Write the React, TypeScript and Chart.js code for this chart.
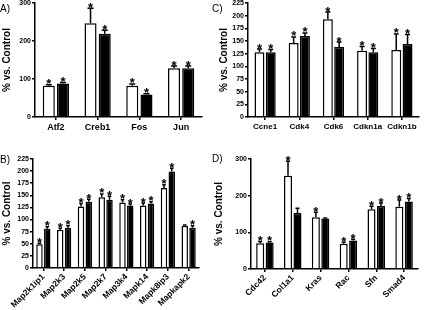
import React, { useEffect, useRef } from 'react';
import { Chart, registerables } from 'chart.js';
Chart.register(...registerables);

const FONT = '"Liberation Sans", Arial, Helvetica, sans-serif';
Chart.defaults.font.family = FONT;
Chart.defaults.color = '#000';

// Panel A
const catA = ['Atf2', 'Creb1', 'Fos', 'Jun'];
const whiteA = [82, 247, 82, 128];
const whiteErrA = [85, 286, 87, 134];
const blackA = [88, 219, 59, 128];
const blackErrA = [91, 228, 61, 134];
const whiteStarA = [true, true, true, true];
const blackStarA = [true, true, true, true];

// Panel B
const catB = ['Map2k1ip1', 'Map2k3', 'Map2k5', 'Map2k7', 'Map3k4', 'Mapk14', 'Mapk8ip3', 'Mapkapk2'];
const whiteB = [49, 79, 127, 146, 135, 129, 165, 87];
const whiteErrB = [51, 82, 133, 153, 141, 134, 172, 89];
const blackB = [81, 83, 137, 141, 129, 133, 199, 83];
const blackErrB = [85, 87, 142, 148, 132, 137, 206, 87];
const whiteStarB = [true, true, true, true, true, true, true, false];
const blackStarB = [true, true, true, true, true, true, true, true];

// Panel C
const catC = ['Ccne1', 'Cdk4', 'Cdk6', 'Cdkn1a', 'Cdkn1b'];
const whiteC = [128, 146, 193, 131, 132];
const whiteErrC = [134, 158, 207, 139, 164];
const blackC = [128, 160, 138, 128, 144];
const blackErrC = [133, 166, 148, 135, 163];
const whiteStarC = [true, true, true, true, true];
const blackStarC = [true, true, true, true, true];

// Panel D
const catD = ['Cdc42', 'Col1a1', 'Kras', 'Rac', 'Sfn', 'Smad4'];
const whiteD = [70, 254, 141, 69, 163, 170];
const whiteErrD = [75, 294, 155, 73, 171, 188];
const blackD = [72, 153, 138, 78, 172, 184];
const blackErrD = [74, 166, 139, 81, 180, 192];
const whiteStarD = [true, true, true, true, true, true];
const blackStarD = [true, false, false, true, true, true];

const yTitle = '% vs. Control';

type PanelProps = {
  left: number; top: number; width: number; height: number;
  letter: string; letterY: number;
  cats: string[];
  white: number[]; whiteErr: number[]; whiteStar: boolean[];
  black: number[]; blackErr: number[]; blackStar: boolean[];
  yMax: number; yStep: number;
  yWidth: number; xHeight: number; padTop: number; padRight: number;
  titlePad: number;
  xFont: number; rotate: boolean;
  catPct: number; barPct: number;
};

function Panel(p: PanelProps) {
  const ref = useRef<HTMLCanvasElement>(null);
  useEffect(() => {
    const errPlugin = {
      id: 'errStars',
      afterDatasetsDraw(chart: any) {
        const ctx = chart.ctx;
        const ys = chart.scales.y;
        const errs = [p.whiteErr, p.blackErr];
        const stars = [p.whiteStar, p.blackStar];
        chart.data.datasets.forEach((_ds: any, di: number) => {
          const meta = chart.getDatasetMeta(di);
          meta.data.forEach((bar: any, i: number) => {
            const top = ys.getPixelForValue(errs[di][i]);
            const cap = Math.max(3.5, bar.width * 0.5);
            ctx.save();
            ctx.strokeStyle = '#000';
            ctx.lineWidth = 1.5;
            ctx.beginPath();
            ctx.moveTo(bar.x, bar.y);
            ctx.lineTo(bar.x, top);
            ctx.moveTo(bar.x - cap / 2, top);
            ctx.lineTo(bar.x + cap / 2, top);
            ctx.stroke();
            if (stars[di][i]) {
              ctx.fillStyle = '#000';
              ctx.font = 'bold 13px ' + FONT;
              ctx.textAlign = 'center';
              ctx.textBaseline = 'alphabetic';
              ctx.fillText('*', bar.x, top + 3.5);
            }
            ctx.restore();
          });
        });
        ctx.save();
        ctx.fillStyle = '#000';
        ctx.font = '10px ' + FONT;
        ctx.textAlign = 'left';
        ctx.textBaseline = 'alphabetic';
        ctx.fillText(p.letter, 0, p.letterY);
        ctx.restore();
      },
    };
    const chart = new Chart(ref.current as HTMLCanvasElement, {
      type: 'bar',
      data: {
        labels: p.cats,
        datasets: [
          { data: p.white, backgroundColor: '#fff', borderColor: '#000', borderWidth: 1.5,
            categoryPercentage: p.catPct, barPercentage: p.barPct },
          { data: p.black, backgroundColor: '#000', borderColor: '#000', borderWidth: 1.5,
            categoryPercentage: p.catPct, barPercentage: p.barPct },
        ],
      },
      options: {
        animation: false,
        responsive: false,
        devicePixelRatio: 1,
        layout: { padding: { top: p.padTop, right: p.padRight, left: 0, bottom: 0 } },
        plugins: { legend: { display: false }, tooltip: { enabled: false } },
        scales: {
          x: {
            grid: { display: true, drawOnChartArea: false, drawTicks: true, tickLength: 3, offset: false, color: '#000', lineWidth: 1.5 },
            border: { display: true, color: '#000', width: 1.5 },
            ticks: {
              font: { size: p.xFont, weight: 'bold' }, color: '#000', padding: p.rotate ? 1 : 2,
              autoSkip: false, maxRotation: p.rotate ? 45 : 0, minRotation: p.rotate ? 45 : 0,
            },
            afterFit: (s: any) => { s.height = p.xHeight; s.paddingLeft = 0; s.paddingRight = 0; },
          },
          y: {
            min: 0, max: p.yMax,
            grid: { display: true, drawOnChartArea: false, drawTicks: true, tickLength: 3, color: '#000', lineWidth: 1.5 },
            border: { display: true, color: '#000', width: 1.5 },
            ticks: { stepSize: p.yStep, font: { size: 7, weight: 'bold' }, color: '#000', padding: 1 },
            title: { display: true, text: yTitle, font: { size: 10, weight: 'bold' }, color: '#000', padding: { top: p.titlePad, bottom: 0 } },
            afterFit: (s: any) => { s.width = p.yWidth; s.paddingTop = 0; s.paddingBottom = 0; },
          },
        },
      } as any,
      plugins: [errPlugin],
    });
    return () => chart.destroy();
  }, []);
  return (
    <div style={{ position: 'absolute', left: p.left, top: p.top, width: p.width, height: p.height }}>
      <canvas ref={ref} width={p.width} height={p.height} style={{ width: p.width, height: p.height, display: 'block' }} />
    </div>
  );
}

export default function App() {
  return (
    <div style={{ position: 'absolute', left: 0, top: 0, width: 424, height: 310, background: '#fff', overflow: 'hidden' }}>
      <Panel left={0} top={0} width={212} height={150} letter="A)" letterY={12}
        cats={catA} white={whiteA} whiteErr={whiteErrA} whiteStar={whiteStarA}
        black={blackA} blackErr={blackErrA} blackStar={blackStarA}
        yMax={300} yStep={100} yWidth={35} xHeight={33} padTop={3} padRight={10}
        titlePad={1} xFont={9} rotate={false} catPct={0.68} barPct={0.85} />
      <Panel left={212} top={0} width={212} height={150} letter="C)" letterY={12}
        cats={catC} white={whiteC} whiteErr={whiteErrC} whiteStar={whiteStarC}
        black={blackC} blackErr={blackErrC} blackStar={blackStarC}
        yMax={225} yStep={25} yWidth={36} xHeight={33} padTop={3} padRight={5}
        titlePad={6} xFont={8} rotate={false} catPct={0.66} barPct={0.88} />
      <Panel left={0} top={150} width={212} height={160} letter="B)" letterY={12.5}
        cats={catB} white={whiteB} whiteErr={whiteErrB} whiteStar={whiteStarB}
        black={blackB} blackErr={blackErrB} blackStar={blackStarB}
        yMax={225} yStep={25} yWidth={33} xHeight={42} padTop={9} padRight={13}
        titlePad={1} xFont={8.5} rotate={true} catPct={0.75} barPct={0.83} />
      <Panel left={212} top={150} width={212} height={160} letter="D)" letterY={12}
        cats={catD} white={whiteD} whiteErr={whiteErrD} whiteStar={whiteStarD}
        black={blackD} blackErr={blackErrD} blackStar={blackStarD}
        yMax={300} yStep={100} yWidth={39} xHeight={41} padTop={9} padRight={6}
        titlePad={1} xFont={8.5} rotate={true} catPct={0.68} barPct={0.85} />
    </div>
  );
}
